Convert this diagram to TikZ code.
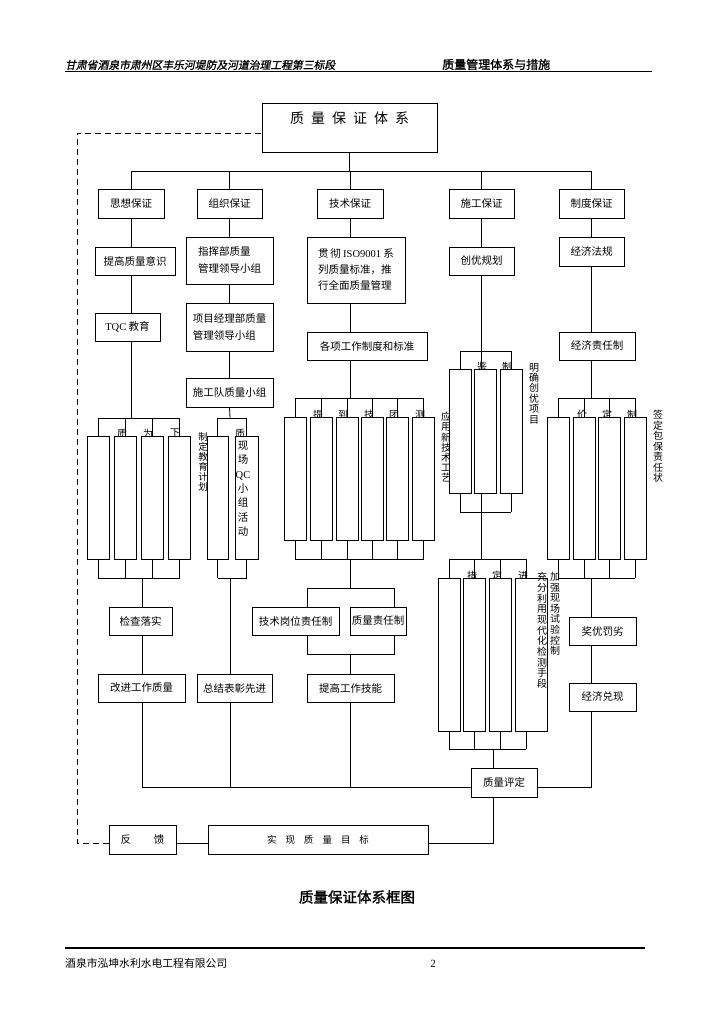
\documentclass[tikz,border=0pt]{standalone}
\usepackage{fontspec}
\setmainfont{Noto Sans CJK SC}
\newfontfamily\lat{Liberation Serif}
\newfontfamily\hdr{Noto Sans CJK SC}[FakeSlant=0.2,FakeBold=1.2]
\newfontfamily\tbf{Noto Sans CJK SC}[FakeBold=1.5]
\pgfdeclarelayer{bg}\pgfdeclarelayer{mid}\pgfdeclarelayer{fg}
\pgfsetlayers{bg,mid,main,fg}
\tikzset{
 box/.style={draw, line width=0.9pt, fill=white, inner sep=0pt, align=center, font=\fontsize{10.5}{13}\selectfont},
 tall/.style={draw, line width=0.9pt, fill=white, inner sep=0pt},
 ln/.style={line width=0.8pt},
 part/.style={inner sep=0pt, anchor=north, font=\fontsize{10}{10}\selectfont},
 vt/.style={inner sep=0pt, anchor=north, align=center, font=\fontsize{10}{10.5}\selectfont},
}
\begin{document}
\begin{tikzpicture}[x=1pt,y=-1pt]
\useasboundingbox (0,0) rectangle (724,1024);
% header and footer
\node[anchor=base west, inner sep=0pt, font=\hdr\fontsize{10.8}{12}\selectfont] (hl) at (65,69) {甘肃省酒泉市肃州区丰乐河堤防及河道治理工程第三标段};
\node[anchor=base west, inner sep=0pt, font=\tbf\fontsize{12}{12}\selectfont] (hr) at (442,69) {质量管理体系与措施};
\coordinate (h0) at (65,72); \coordinate (h1) at (652,72);
\draw[line width=1pt] (h0) -- (h1);
\coordinate (f0) at (65,948); \coordinate (f1) at (645,948);
\draw[line width=1.5pt] (f0) -- (f1);
\node[anchor=base west, inner sep=0pt, font=\fontsize{10.8}{12}\selectfont] (ft) at (65,967) {酒泉市泓坤水利水电工程有限公司};
\node[anchor=base, inner sep=0pt, font=\lat\fontsize{11}{12}\selectfont] (pg) at (433,967) {2};
\node[inner sep=0pt, font=\tbf\fontsize{14.5}{16}\selectfont] (title) at (357,897) {质量保证体系框图};

% main boxes
\node[box, minimum width=175pt, minimum height=49pt] (top) at (349.5,127.5) {};
\node[inner sep=0pt, font=\fontsize{14}{16}\selectfont] (toptxt) at (349.5,118) {质\hspace{7pt}量\hspace{7pt}保\hspace{7pt}证\hspace{7pt}体\hspace{7pt}系};
\node[box, minimum width=66pt, minimum height=29pt] (s1) at (131,203.5) {思想保证};
\node[box, minimum width=65pt, minimum height=29pt] (s2) at (229.5,203.5) {组织保证};
\node[box, minimum width=66pt, minimum height=29pt] (s3) at (350,203.5) {技术保证};
\node[box, minimum width=65pt, minimum height=29pt] (s4) at (481.5,203.5) {施工保证};
\node[box, minimum width=65pt, minimum height=29pt] (s5) at (591.5,203.5) {制度保证};

\node[box, minimum width=80pt, minimum height=28pt] (a2) at (135,261) {提高质量意识};
\node[box, minimum width=87pt, minimum height=47pt, align=left, font=\fontsize{10.5}{17}\selectfont] (b2) at (229.5,260.5) {指挥部质量\\管理领导小组};
\node[box, minimum width=98pt, minimum height=66pt, align=left, font=\fontsize{10.5}{16}\selectfont] (c2) at (356,270) {贯\,彻 {\lat ISO9001} 系\\列质量标准，推\\行全面质量管理};
\node[box, minimum width=65pt, minimum height=28pt] (d2) at (481.5,261) {创优规划};
\node[box, minimum width=65pt, minimum height=29pt] (e2) at (591.5,251.5) {经济法规};

\node[box, minimum width=65pt, minimum height=28pt] (a3) at (127.5,327) {{\lat TQC} 教育};
\node[box, minimum width=87pt, minimum height=48pt, align=left, font=\fontsize{10.5}{17}\selectfont] (b3) at (229.5,327) {项目经理部质量\\管理领导小组};
\node[box, minimum width=120pt, minimum height=28pt] (c3) at (367,346) {各项工作制度和标准};
\node[box, minimum width=76pt, minimum height=28pt] (e3) at (597,346) {经济责任制};
\node[box, minimum width=87pt, minimum height=29pt] (b4) at (229.5,392.5) {施工队质量小组};

% tall boxes
\foreach \n/\x in {A1/98,A2/125,A3/152.5,A4/179.5}
  \node[tall, minimum width=22pt, minimum height=123pt] (\n) at (\x,497.5) {};
\node[tall, minimum width=21pt, minimum height=123pt] (B1) at (217.5,497.5) {};
\node[tall, minimum width=23pt, minimum height=123pt] (B2) at (246.5,497.5) {};
\foreach \n/\x in {C1/295,C2/321,C3/347,C4/372,C5/397.5,C6/423.5}
  \node[tall, minimum width=22pt, minimum height=123pt] (\n) at (\x,478.5) {};
\foreach \n/\x in {D1/460,D2/485,D3/511}
  \node[tall, minimum width=22pt, minimum height=124pt] (\n) at (\x,431) {};
\foreach \n/\x in {E1/449,E2/474,E3/500}
  \node[tall, minimum width=22pt, minimum height=153pt] (\n) at (\x,654.5) {};
\node[tall, minimum width=32pt, minimum height=153pt] (E4) at (531,654.5) {};
\foreach \n/\x in {F1/558,F2/584,F3/609,F4/635}
  \node[tall, minimum width=22pt, minimum height=142pt] (\n) at (\x,488) {};

% lower boxes
\node[box, minimum width=63pt, minimum height=28pt] (chk) at (140.5,621) {检查落实};
\node[box, minimum width=87pt, minimum height=28pt] (gj) at (141.5,688) {改进工作质量};
\node[box, minimum width=75pt, minimum height=28pt] (zj) at (234.5,688) {总结表彰先进};
\node[box, minimum width=87pt, minimum height=28pt] (jg) at (295.5,621) {技术岗位责任制};
\node[box, minimum width=56pt, minimum height=28pt] (zr) at (378,621) {质量责任制};
\node[box, minimum width=87pt, minimum height=28pt] (tg) at (350.5,688) {提高工作技能};
\node[box, minimum width=67pt, minimum height=28pt] (jy) at (602.5,631) {奖优罚劣};
\node[box, minimum width=67pt, minimum height=28pt] (dx) at (602.5,697) {经济兑现};
\node[box, minimum width=66pt, minimum height=29pt] (pd) at (504,782.5) {质量评定};
\node[box, minimum width=220pt, minimum height=29pt, font=\fontsize{9.5}{12}\selectfont] (sx) at (318,839.5) {实\hspace{9pt}现\hspace{9pt}质\hspace{9pt}量\hspace{9pt}目\hspace{9pt}标};
\node[box, minimum width=67pt, minimum height=29pt] (fk) at (142.5,839.5) {反\hspace{23pt}馈};

% partial characters and side texts (under the tall boxes)
\begin{pgfonlayer}{mid}
\foreach \c/\x/\y [count=\i] in {质/122/429,为/148/429,下/175/429,质/240/429,提/318/410,到/343/410,技/369/410,团/394/410,测/420/410,鉴/482/362,制/507/362,措/472/571,定/497/571,进/523/571,价/582/410,定/607/410,制/632/410}
  \node[part] (p\i) at (\x,\y) {\c};
\node[vt, font=\fontsize{9.5}{10}\selectfont] (t1) at (203,432) {制\\定\\教\\育\\计\\划};
\node[vt, font=\fontsize{10}{10.2}\selectfont] (t2) at (446,412) {应\\用\\新\\技\\术\\工\\艺};
\node[vt, font=\fontsize{10}{10.4}\selectfont] (t3) at (534,363) {明\\确\\创\\优\\项\\目};
\node[vt, font=\fontsize{10}{10.5}\selectfont] (t4) at (658,410) {签\\定\\包\\保\\责\\任\\状};
\node[vt, font=\fontsize{10}{10.6}\selectfont] (t5) at (555,572) {加\\强\\现\\场\\试\\验\\控\\制};
\end{pgfonlayer}
\begin{pgfonlayer}{fg}
\node[vt, font=\fontsize{10.5}{14.3}\selectfont] (t6) at (243,441) {现\\场\\{\lat QC}\\小\\组\\活\\动};
\node[vt, font=\fontsize{10}{10.7}\selectfont] (t7) at (542,572) {充\\分\\利\\用\\现\\代\\化\\检\\测\\手\\段};
\end{pgfonlayer}

% connectors
\begin{pgfonlayer}{bg}
\coordinate (bus) at (350,171);
\coordinate (bot) at (0,787);
\draw[ln] (top.south) -- (top.south |- bus);
\draw[ln] (s1.north |- bus) -- (s5.north |- bus);
\foreach \n in {s1,s2,s3,s4,s5} \draw[ln] (\n.north) -- (\n.north |- bus);
% column A
\coordinate (At) at (131,418); \coordinate (Ab) at (142,578);
\draw[ln] (s1.south) -- (s1.south |- a2.north);
\draw[ln] (s1.south |- a2.south) -- (s1.south |- a3.north);
\draw[ln] (s1.south |- a3.south) -- (At);
\draw[ln] (A1.north |- At) -- (A4.north |- At);
\draw[ln] (A1.south |- Ab) -- (A4.south |- Ab);
\foreach \n in {A1,A2,A3,A4} {\draw[ln] (\n.north) -- (\n.north |- At); \draw[ln] (\n.south) -- (\n.south |- Ab);}
\draw[ln] (Ab) -- (Ab |- chk.north);
\draw[ln] (Ab |- chk.south) -- (Ab |- gj.north);
\draw[ln] (Ab |- gj.south) -- (Ab |- bot) -- (pd.west |- bot);
% column B
\coordinate (Bt) at (230,418); \coordinate (Bb) at (230,578);
\draw[ln] (s2.south) -- (b2.north);
\draw[ln] (b2.south) -- (b3.north);
\draw[ln] (b3.south) -- (b4.north);
\draw[ln] (b4.south) -- (Bt);
\draw[ln] (B1.north |- Bt) -- (B2.north |- Bt);
\draw[ln] (B1.south |- Bb) -- (B2.south |- Bb);
\foreach \n in {B1,B2} {\draw[ln] (\n.north) -- (\n.north |- Bt); \draw[ln] (\n.south) -- (\n.south |- Bb);}
\draw[ln] (Bb) -- (Bb |- bot);
% column C
\coordinate (Ct) at (0,398); \coordinate (Cb) at (0,559);
\coordinate (cL) at (307,588); \coordinate (cR) at (394,588); \coordinate (cl2) at (0,654);
\draw[ln] (s3.south) -- (s3.south |- c2.north);
\draw[ln] (s3.south |- c2.south) -- (s3.south |- c3.north);
\draw[ln] (s3.south |- c3.south) -- (s3.south |- Ct);
\draw[ln] (C1.north |- Ct) -- (C6.north |- Ct);
\draw[ln] (C1.south |- Cb) -- (C6.south |- Cb);
\foreach \n in {C1,C2,C3,C4,C5,C6} {\draw[ln] (\n.north) -- (\n.north |- Ct); \draw[ln] (\n.south) -- (\n.south |- Cb);}
\draw[ln] (s3.south |- Cb) -- (s3.south |- cL);
\draw[ln] (cL) -- (cR);
\draw[ln] (cL) -- (cL |- jg.north);
\draw[ln] (cR) -- (cR |- zr.north);
\draw[ln] (cL |- jg.south) -- (cL |- cl2) -- (cR |- cl2) -- (cR |- zr.south);
\draw[ln] (s3.south |- cl2) -- (s3.south |- tg.north);
\draw[ln] (s3.south |- tg.south) -- (s3.south |- bot);
% column D
\coordinate (Dt) at (0,351); \coordinate (Db) at (0,512); \coordinate (Et) at (0,559); \coordinate (Eb) at (0,749);
\draw[ln] (s4.south) -- (d2.north);
\draw[ln] (d2.south) -- (d2.south |- Et);
\draw[ln] (D1.north |- Dt) -- (D3.north |- Dt);
\draw[ln] (D1.south |- Db) -- (D3.south |- Db);
\foreach \n in {D1,D3} {\draw[ln] (\n.north) -- (\n.north |- Dt); \draw[ln] (\n.south) -- (\n.south |- Db);}
% column E
\coordinate (E4s) at (526,0); \coordinate (Ed) at (493,749);
\draw[ln] (E1.north |- Et) -- (E4s |- Et);
\draw[ln] (E1.south |- Eb) -- (E4s |- Eb);
\foreach \n in {E1,E2,E3} {\draw[ln] (\n.north) -- (\n.north |- Et); \draw[ln] (\n.south) -- (\n.south |- Eb);}
\draw[ln] (E4s |- E4.north) -- (E4s |- Et);
\draw[ln] (E4s |- E4.south) -- (E4s |- Eb);
\draw[ln] (Ed) -- (Ed |- pd.north);
% column F
\coordinate (Ft) at (0,398); \coordinate (Fb) at (0,578);
\draw[ln] (s5.south) -- (e2.north);
\draw[ln] (e2.south) -- (e2.south |- e3.north);
\draw[ln] (e2.south |- e3.south) -- (e2.south |- Ft);
\draw[ln] (F1.north |- Ft) -- (F4.north |- Ft);
\draw[ln] (F1.south |- Fb) -- (F4.south |- Fb);
\foreach \n in {F1,F2,F3,F4} {\draw[ln] (\n.north) -- (\n.north |- Ft); \draw[ln] (\n.south) -- (\n.south |- Fb);}
\draw[ln] (e2.south |- Fb) -- (e2.south |- jy.north);
\draw[ln] (e2.south |- jy.south) -- (e2.south |- dx.north);
\draw[ln] (e2.south |- dx.south) -- (e2.south |- bot) -- (pd.east |- bot);
% bottom
\coordinate (fl) at (0,843.5); \coordinate (dk) at (77,133);
\draw[ln] (Ed |- pd.south) -- (Ed |- fl) -- (sx.east |- fl);
\draw[ln] (sx.west |- fl) -- (fk.east |- fl);
\draw[ln, dash pattern=on 6pt off 4pt] (fk.west |- fl) -| (dk) -- (top.west |- dk);
\end{pgfonlayer}
\end{tikzpicture}
\end{document}
